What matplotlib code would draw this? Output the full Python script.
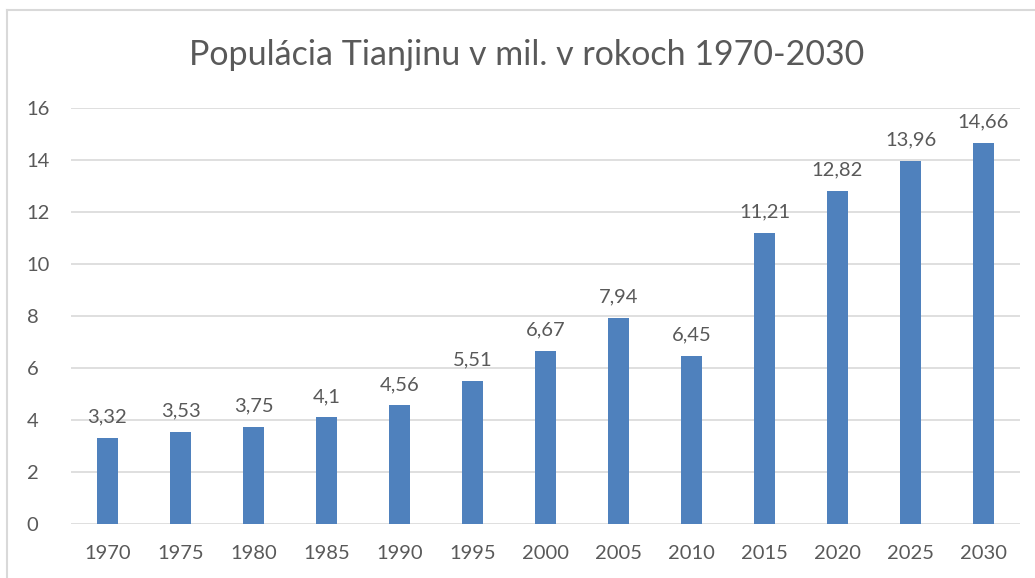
import matplotlib
matplotlib.use("Agg")
import matplotlib.pyplot as plt
from matplotlib.lines import Line2D

years = ["1970", "1975", "1980", "1985", "1990", "1995", "2000", "2005", "2010", "2015", "2020", "2025", "2030"]
values = [3.32, 3.53, 3.75, 4.1, 4.56, 5.51, 6.67, 7.94, 6.45, 11.21, 12.82, 13.96, 14.66]
labels = ["3,32", "3,53", "3,75", "4,1", "4,56", "5,51", "6,67", "7,94", "6,45", "11,21", "12,82", "13,96", "14,66"]
yticks = [0, 2, 4, 6, 8, 10, 12, 14, 16]
title = "Populácia Tianjinu v mil. v rokoch 1970-2030"

plt.rcParams['font.family'] = ['Lato', 'DejaVu Sans']
txt = "#595959"
W, H = 1035, 578
fig = plt.figure(figsize=(W / 100, H / 100), dpi=100)
ax = fig.add_axes([71 / W, 1 - 524 / H, (1020 - 71) / W, (524 - 108) / H])

x = list(range(len(years)))
ax.bar(x, values, width=0.3, color="#4F81BD", zorder=3)
for xi, v, lab in zip(x, values, labels):
    ax.annotate(lab, (xi, v), xytext=(0, 9), textcoords="offset points",
                ha="center", va="bottom", fontsize=14.5, color=txt)

ax.set_xlim(-0.5, len(years) - 0.5)
ax.set_ylim(0, 16)
ax.set_yticks(yticks)
ax.set_yticklabels([str(t) for t in yticks])
ax.set_xticks(x)
ax.set_xticklabels(years)
ax.tick_params(axis="both", length=0, labelsize=14.5, colors=txt)
ax.tick_params(axis="x", pad=15)
ax.tick_params(axis="y", pad=32)
for lab in ax.get_yticklabels():
    lab.set_horizontalalignment("left")
ax.grid(axis="y", color="#D9D9D9", linewidth=1.2, zorder=0)
for s in ax.spines.values():
    s.set_visible(False)

fig.text(527 / W, 1 - 55 / H, title, ha="center", va="center", fontsize=24.5, color=txt)

fig.add_artist(Line2D([7 / W, 7 / W], [0, 1 - 10 / H], color="#D9D9D9", linewidth=1.5))
fig.add_artist(Line2D([7 / W, 1], [1 - 10 / H, 1 - 10 / H], color="#D9D9D9", linewidth=1.5))

fig.savefig("out.png", dpi=100)
